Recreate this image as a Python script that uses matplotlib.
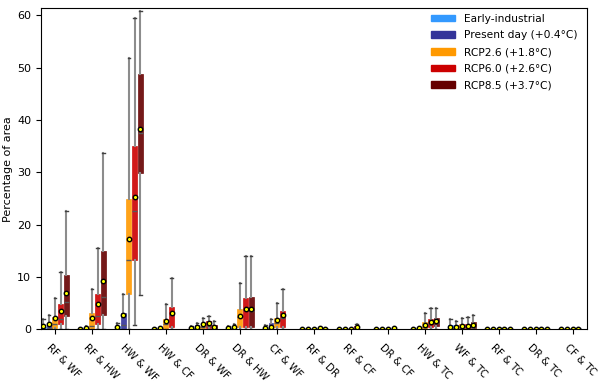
import numpy as np
import matplotlib
matplotlib.use("Agg")
import matplotlib.pyplot as plt
import matplotlib.transforms as mtransforms
from matplotlib.patches import Patch

# pairs of hazards on the x axis
categories = ["RF & WF", "RF & HW", "HW & WF", "HW & CF", "DR & WF", "DR & HW",
              "CF & WF", "RF & DR", "RF & CF", "DR & CF", "HW & TC", "WF & TC",
              "RF & TC", "DR & TC", "CF & TC"]

scenarios = ["Early-industrial", "Present day (+0.4°C)", "RCP2.6 (+1.8°C)",
             "RCP6.0 (+2.6°C)", "RCP8.5 (+3.7°C)"]
colors = ["#3399ff", "#333399", "#ff9900", "#cc0000", "#660000"]

# (whisker low, q1, median, q3, whisker high, mean), None = no data
early = [(0, 0, 0.1, 0.4, 2.0, 0.6), (0, 0, 0, 0.05, 0.2, 0.05), (0, 0, 0.1, 0.7, 1.2, 0.45),
         (0, 0, 0, 0.05, 0.2, 0.05), (0, 0, 0.05, 0.2, 0.6, 0.2), (0, 0, 0.05, 0.2, 0.6, 0.2),
         (0, 0, 0.05, 0.3, 0.8, 0.25), (0, 0, 0, 0.05, 0.1, 0.05), (0, 0, 0, 0.02, 0.1, 0.03),
         (0, 0, 0, 0.02, 0.1, 0.03), (0, 0, 0, 0.05, 0.2, 0.05), (0, 0, 0.2, 0.8, 2.0, 0.5),
         (0, 0, 0, 0.02, 0.1, 0.03), (0, 0, 0, 0.02, 0.1, 0.03), (0, 0, 0, 0.02, 0.1, 0.03)]
present = [(0, 0, 0.3, 1.2, 2.8, 1.0), (0, 0, 0.05, 0.3, 0.6, 0.25), (0, 0.1, 0.8, 3.0, 6.7, 2.7),
           (0, 0, 0.05, 0.2, 0.5, 0.15), (0, 0, 0.2, 0.8, 1.2, 0.5), (0, 0, 0.1, 0.5, 1.0, 0.45),
           (0, 0, 0.2, 1.1, 1.9, 0.45), (0, 0, 0, 0.05, 0.15, 0.05), (0, 0, 0, 0.05, 0.15, 0.05),
           (0, 0, 0, 0.05, 0.15, 0.05), (0, 0, 0, 0.1, 0.3, 0.15), (0, 0, 0.2, 0.8, 1.6, 0.45),
           (0, 0, 0, 0.02, 0.1, 0.03), (0, 0, 0, 0.02, 0.1, 0.03), (0, 0, 0, 0.02, 0.1, 0.03)]
rcp26 = [(0, 0.2, 1.0, 2.4, 6.0, 2.2), (0, 0.1, 0.6, 3.1, 7.6, 2.2), (0, 6.8, 13.2, 24.8, 51.9, 17.2),
         (0, 0.1, 1.0, 2.0, 4.9, 1.5), (0, 0.1, 0.4, 0.7, 2.2, 1.0), (0, 0.45, 2.4, 3.8, 8.9, 2.5),
         (0, 0.45, 1.1, 2.2, 5.0, 1.7), (0, 0, 0, 0.05, 0.2, 0.1), (0, 0, 0, 0.1, 0.3, 0.1),
         (0, 0, 0, 0.05, 0.2, 0.1), (0, 0.1, 0.4, 1.3, 3.0, 0.8), (0, 0.1, 0.3, 0.9, 2.2, 0.55),
         (0, 0, 0, 0.05, 0.2, 0.05), (0, 0, 0, 0.05, 0.2, 0.1), (0, 0, 0, 0.05, 0.2, 0.1)]
rcp60 = [(0, 0.9, 2.0, 4.8, 11.0, 3.5), (0, 0.9, 2.5, 6.8, 15.6, 4.8), (0.8, 13.2, 22.6, 35.0, 59.5, 25.3),
         (0, 0.45, 2.7, 4.3, 9.7, 3.1), (0, 0.2, 0.6, 1.6, 2.5, 1.1), (0, 0.45, 3.6, 6.0, 14.0, 3.9),
         (0, 0.45, 2.2, 3.5, 7.6, 2.7), (0, 0, 0, 0.1, 0.3, 0.15), (0, 0.1, 0.3, 0.6, 1.0, 0.4),
         (0, 0, 0.05, 0.1, 0.3, 0.15), (0, 0.4, 0.9, 1.9, 4.0, 1.3), (0, 0.1, 0.4, 1.0, 2.4, 0.6),
         (0, 0, 0, 0.05, 0.2, 0.05), (0, 0, 0, 0.05, 0.2, 0.1), (0, 0, 0, 0.05, 0.2, 0.1)]
rcp85 = [(0, 2.5, 5.2, 10.3, 22.6, 6.9), (0, 2.7, 6.1, 15.0, 33.6, 9.3), (6.6, 29.8, 37.6, 48.8, 60.8, 38.2),
         None, (0, 0.1, 0.3, 0.8, 1.5, 0.5), (0, 0.45, 3.5, 6.1, 14.0, 3.9),
         None, (0, 0, 0.05, 0.1, 0.3, 0.1), None,
         None, (0, 0.6, 1.2, 2.1, 4.1, 1.6), (0, 0.2, 0.5, 1.3, 2.7, 0.8),
         (0, 0, 0, 0.05, 0.2, 0.05), (0, 0, 0, 0.05, 0.2, 0.1), None]

all_data = [early, present, rcp26, rcp60, rcp85]
offsets = [-0.31, -0.155, 0, 0.155, 0.31]
box_w = 0.13

fig = plt.figure(figsize=(6, 3.85), dpi=100)
ax = fig.add_axes([0.068, 0.145, 0.91, 0.834])

for data, off, col in zip(all_data, offsets, colors):
    stats = []
    pos = []
    for i, d in enumerate(data):
        if d is None:
            continue
        lo, q1, med, q3, hi, mean = d
        stats.append(dict(whislo=lo, q1=q1, med=med, q3=q3, whishi=hi, mean=mean, fliers=[]))
        pos.append(i + off)
    ax.bxp(stats, positions=pos, widths=box_w, patch_artist=True, showmeans=True,
           showfliers=False, manage_ticks=False,
           boxprops=dict(facecolor=col, edgecolor=col, alpha=0.9, lw=0.5),
           medianprops=dict(color="0.35", lw=1),
           whiskerprops=dict(color="0.55", lw=1.5),
           capprops=dict(color="0.25", lw=1),
           meanprops=dict(marker="o", markerfacecolor="yellow", markeredgecolor="black",
                          markersize=3.2, markeredgewidth=1))

ax.set_xticks(np.arange(len(categories)))
ax.set_xticklabels(categories, rotation=-45, ha="left", rotation_mode="anchor", fontsize=7.3)
shift = mtransforms.ScaledTranslation(-3 / 100, -3 / 100, fig.dpi_scale_trans)
for lab in ax.get_xticklabels():
    lab.set_transform(lab.get_transform() + shift)
ax.set_xlim(-0.38, 14.38)
ax.set_ylim(0, 61.4)
ax.set_yticks(np.arange(0, 61, 10))
ax.tick_params(axis="y", labelsize=8)
ax.set_ylabel("Percentage of area", fontsize=8, labelpad=3)

handles = [Patch(color=c, label=s) for c, s in zip(colors, scenarios)]
ax.legend(handles=handles, loc="upper right", frameon=False, fontsize=7.7,
          handlelength=2.3, handleheight=0.55, labelspacing=0.62,
          bbox_to_anchor=(1.0, 1.012))

fig.savefig("out.png", dpi=100)
